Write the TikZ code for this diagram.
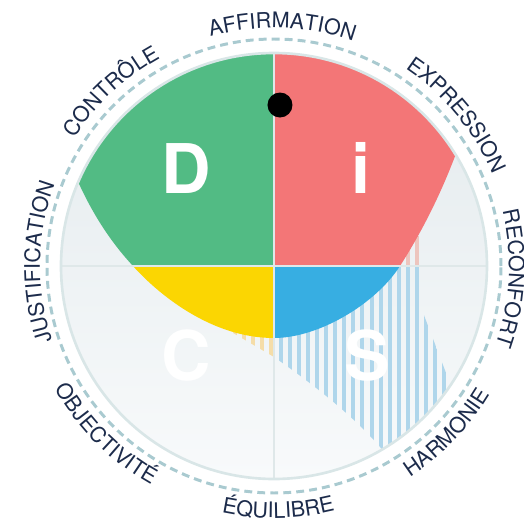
\documentclass[tikz,border=0pt]{standalone}
\usepackage{fontspec}
\usepackage{tikz}
\usetikzlibrary{decorations.text}
\newfontfamily\labelfont{TeX Gyre Heros}
\newfontfamily\letterfont{TeX Gyre Heros}
\definecolor{dcol}{HTML}{52BB84}
\definecolor{icol}{HTML}{F37677}
\definecolor{ccol}{HTML}{FBD602}
\definecolor{scol}{HTML}{37AEE2}
\definecolor{chatch}{HTML}{F5DDA8}
\definecolor{shatch}{HTML}{AFD6EB}
\definecolor{ihatch}{HTML}{EDC5BE}
\definecolor{bgtop}{HTML}{E3EAED}
\definecolor{bgbot}{HTML}{F8FAFB}
\definecolor{ringcol}{HTML}{D9E6E7}
\definecolor{axiscol}{HTML}{DFE8E9}
\definecolor{dashcol}{HTML}{A9CAD0}
\definecolor{labelcol}{HTML}{1C2B4B}
% main profile (units are px, origin at the centre of the wheel)
\newcommand*{\discpath}{%
  (156.8:213) arc[start angle=156.8, end angle=31.5, radius=213]
  .. controls (166.7,72) and (148.4,35) .. (126,0)
  .. controls (101.7,-37.8) and (45,-72) .. (0,-72)
  .. controls (-70,-72) and (-125,-18) .. (-141,0)
  .. controls (-163.7,24.5) and (-181.3,52.1) .. (156.8:213) -- cycle}
% second profile, only drawn striped
\newcommand*{\hatchpath}{%
  (-50,0) -- (-46,-64) -- (0,-91)
  .. controls (30,-112) and (75,-145) .. (106,-181)
  -- (125,-205) -- (215,-190) -- (190,-154) -- (148,-44)
  -- (148,30) -- (0,30) -- cycle}

\begin{document}
\begin{tikzpicture}[x=0.02cm, y=0.02cm,
  ringlabel/.style={decorate, decoration={text along path, text align=center,
      text color=labelcol, text={|\labelfont\fontsize{12.2}{14}\selectfont|#1}}},
  bigletter/.style={text=white, anchor=base, inner sep=0pt,
      font=\letterfont\bfseries\fontsize{39}{39}\selectfont}]
\useasboundingbox (-274,-259) rectangle (250,266);

\begin{scope}
  \clip (0,0) circle (213);
  \shade[top color=bgtop, bottom color=bgbot] (-213,-213) rectangle (213,213);
  \begin{scope}
    \clip \hatchpath;
    \foreach \k in {-6,...,0}
      \fill[chatch] ({9.1*\k-4.5},-220) rectangle ({9.1*\k-0.5},0);
    \foreach \k in {1,...,24} {
      \fill[shatch] ({9.1*\k-4.5},-220) rectangle ({9.1*\k-0.5},0);
      \fill[ihatch] ({9.1*\k-4.5},0) rectangle ({9.1*\k-0.5},220);
    }
  \end{scope}
  \begin{scope}
    \clip \discpath;
    \fill[dcol] (-220,0) rectangle (0,220);
    \fill[icol] (0,0) rectangle (220,220);
    \fill[ccol] (-220,-220) rectangle (0,0);
    \fill[scol] (0,-220) rectangle (220,0);
  \end{scope}
\end{scope}

\draw[axiscol, line width=1.2pt] (-213,0) -- (213,0) (0,-213) -- (0,213);
\draw[ringcol, line width=1.5pt] (0,0) circle (213);
\draw[dashcol, line width=1.7pt, dash pattern=on 4.5pt off 2.9pt] (0,0) circle (227);

\node[bigletter] (dletter) at (-87.5,73) {D};
\node[bigletter] (iletter) at (87,73) {i};
\node[bigletter] (cletter) at (-88,-114) {C};
\node[bigletter] (sletter) at (93,-114) {S};
\fill (6,161) circle (12.5);

\path[ringlabel=AFFIRMATION] (133:238) arc[start angle=133, end angle=43, radius=238];
\path[ringlabel=CONTRÔLE] (178:237) arc[start angle=178, end angle=88, radius=237];
\path[ringlabel=EXPRESSION] (84.5:237) arc[start angle=84.5, end angle=-5.5, radius=237];
\path[ringlabel=RECONFORT] (42:235) arc[start angle=42, end angle=-48, radius=235];
\path[ringlabel=JUSTIFICATION] (224:234) arc[start angle=224, end angle=134, radius=234];
\path[ringlabel=OBJECTIVITÉ] (180:251) arc[start angle=180, end angle=270, radius=251];
\path[ringlabel=ÉQUILIBRE] (226:252) arc[start angle=226, end angle=316, radius=252];
\path[ringlabel=HARMONIE] (271:251) arc[start angle=271, end angle=361, radius=251];
\end{tikzpicture}
\end{document}
